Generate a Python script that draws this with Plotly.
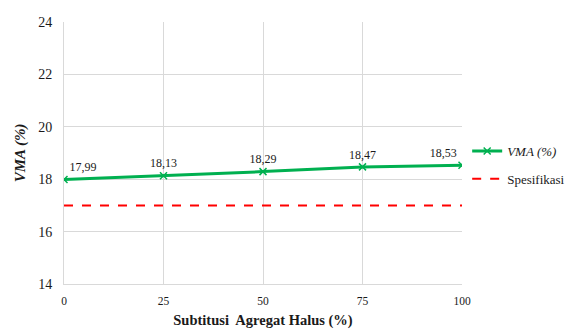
import plotly.graph_objects as go

x_vals = [0, 25, 50, 75, 100]
vma = [17.99, 18.13, 18.29, 18.47, 18.53]
spec_x = [0, 100]
spec = [17, 17]
y_ticks = [14, 16, 18, 20, 22, 24]

labels = [f"{v:.2f}".replace(".", ",") for v in vma]
positions = ["top right", "top center", "top center", "top center", "top left"]

FONT = "Liberation Serif, Times New Roman, serif"

fig = go.Figure()
fig.add_trace(go.Scatter(
    x=x_vals, y=vma, mode="lines+markers+text",
    name="<i>VMA (%)</i>",
    line=dict(color="#00B050", width=3),
    marker=dict(symbol="x-thin", size=7, line=dict(color="#00B050", width=1.5)),
    text=labels, textposition=positions,
    textfont=dict(family=FONT, size=12, color="#1a1a1a"),
    legendgroup="a",
))
fig.add_trace(go.Scatter(
    x=spec_x, y=spec, mode="lines", name="Spesifikasi",
    line=dict(color="#FF0000", width=2, dash="dash"),
    legendgroup="b",
))

fig.update_layout(
    width=567, height=329,
    margin=dict(l=64, r=105, t=22, b=45, autoexpand=False),
    paper_bgcolor="white", plot_bgcolor="white",
    font=dict(family=FONT, size=13, color="#1a1a1a"),
    showlegend=True,
    legend=dict(x=1.013, xanchor="left", y=0.565, yanchor="top",
                font=dict(family=FONT, size=13, color="#1a1a1a"),
                tracegroupgap=8, bgcolor="rgba(0,0,0,0)"),
    xaxis=dict(range=[0, 100], tickvals=x_vals, showgrid=True, gridcolor="#D9D9D9",
               linecolor="#D9D9D9", showline=True, mirror=False, zeroline=False,
               automargin=False,
               tickfont=dict(family=FONT, size=11.5), ticks="", ticklabelstandoff=6,
               title=dict(text="<b>Subtitusi  Agregat Halus (%)</b>", font=dict(family=FONT, size=14.5), standoff=11)),
    yaxis=dict(range=[14, 24], tickvals=y_ticks, showgrid=True, gridcolor="#D9D9D9",
               linecolor="#D9D9D9", showline=True, zeroline=False,
               automargin=False,
               tickfont=dict(family=FONT, size=14), ticks="", ticklabelstandoff=8,
               title=dict(text="<b><i>VMA (%)</i></b>", font=dict(family=FONT, size=15), standoff=8)),
)

fig.write_html("out.html", config={"displayModeBar": False},
               post_script="document.body.style.margin='0px';")
